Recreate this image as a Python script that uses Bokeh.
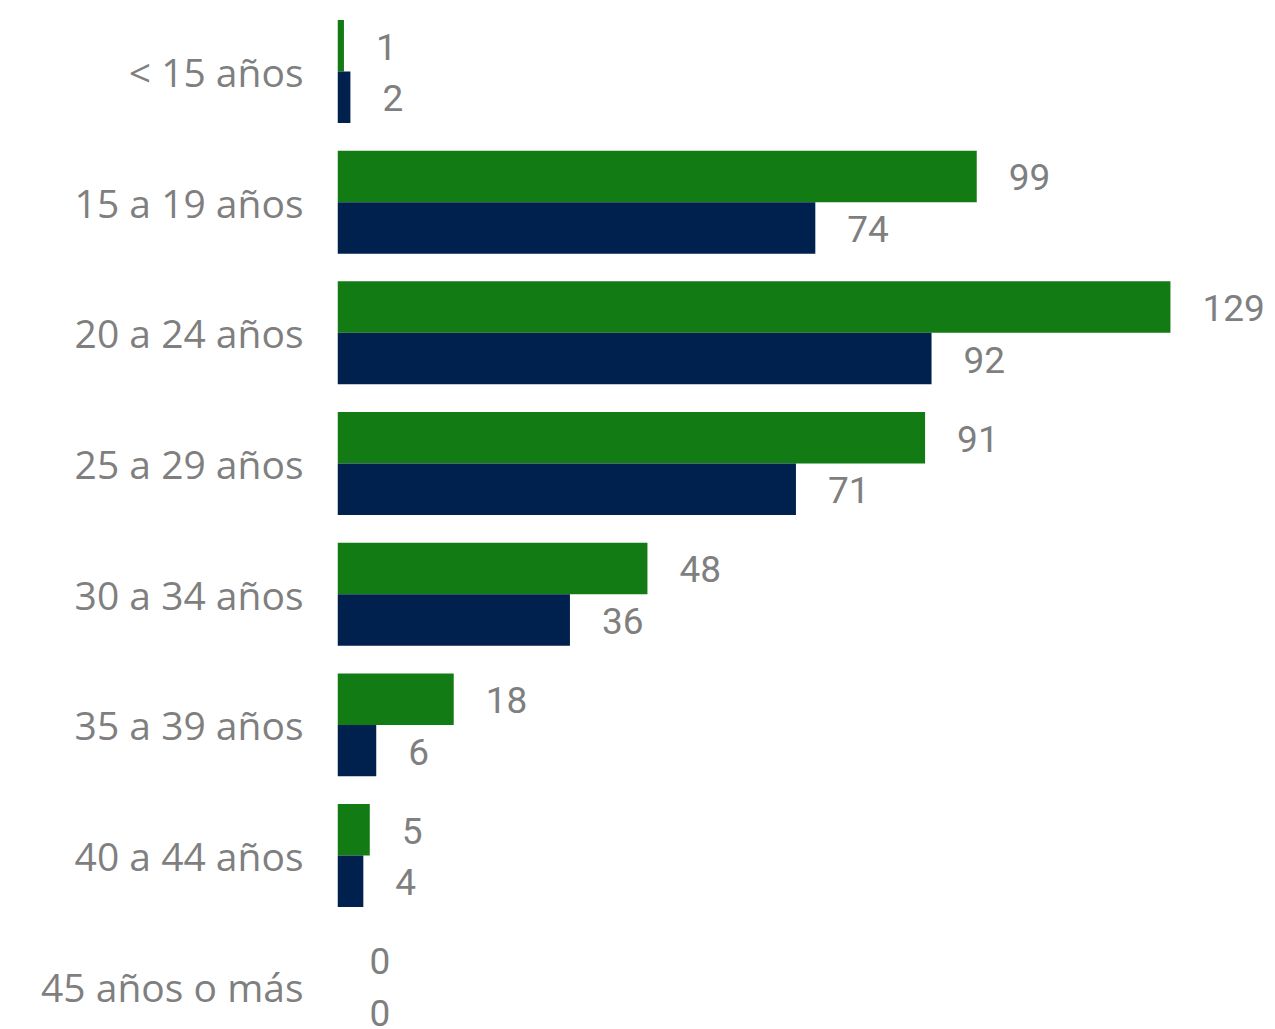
from bokeh.plotting import figure
from bokeh.models import ColumnDataSource, Range1d, FixedTicker
from bokeh.core.properties import value
from bokeh.embed import file_html
from bokeh.resources import INLINE

categories = ["< 15 años", "15 a 19 años", "20 a 24 años", "25 a 29 años",
              "30 a 34 años", "35 a 39 años", "40 a 44 años", "45 años o más"]
serie_verde = [1, 99, 129, 91, 48, 18, 5, 0]
serie_azul = [2, 74, 92, 71, 36, 6, 4, 0]

GREEN = "#137B13"
NAVY = "#00204E"
GRAY = "#7F7F7F"

n = len(categories)
idx = list(range(n))
bh = 0.394
src_g = ColumnDataSource(dict(y=[i - bh / 2 for i in idx], v=serie_verde,
                              t=[str(v) for v in serie_verde]))
src_b = ColumnDataSource(dict(y=[i + bh / 2 for i in idx], v=serie_azul,
                              t=[str(v) for v in serie_azul]))

p = figure(width=1268, height=1029, output_backend="svg", toolbar_location=None,
           x_range=Range1d(0, (1268 - 337) / 6.457), y_range=Range1d(7.331, -0.543),
           min_border_left=337, min_border_right=0, min_border_top=0, min_border_bottom=0)
p.outline_line_color = None
p.xgrid.visible = False
p.ygrid.visible = False
p.xaxis.visible = False

p.hbar(y="y", right="v", left=0, height=bh, source=src_g, color=GREEN, line_color=None)
p.hbar(y="y", right="v", left=0, height=bh, source=src_b, color=NAVY, line_color=None)

for s in (src_g, src_b):
    p.text(x="v", y="y", text="t", source=s, x_offset=32, y_offset=1,
           text_align="left", text_baseline="middle", text_color=GRAY,
           text_font=value("Roboto"), text_font_size="37px")

ya = p.yaxis[0]
ya.ticker = FixedTicker(ticks=idx)
ya.major_label_overrides = {i: c for i, c in zip(idx, categories)}
ya.axis_line_color = None
ya.major_tick_line_color = None
ya.minor_tick_line_color = None
ya.major_label_standoff = 28
ya.major_label_text_font = "Open Sans"
ya.major_label_text_font_size = "39px"
ya.major_label_text_color = GRAY

open("out.html", "w").write(file_html(p, INLINE))
